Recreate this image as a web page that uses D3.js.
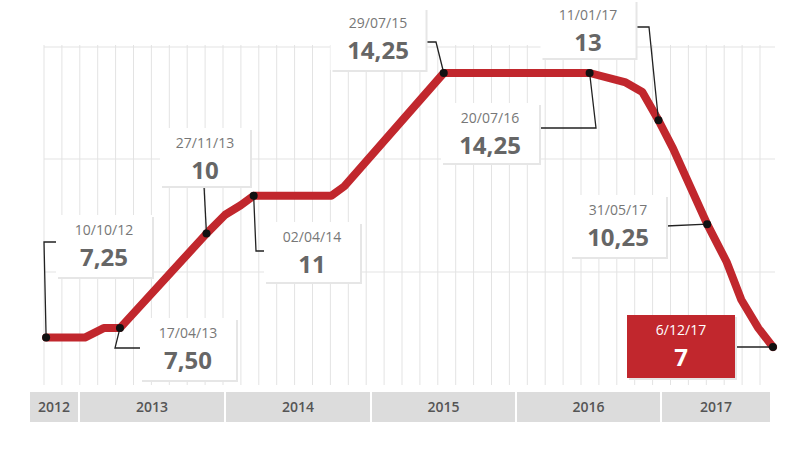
<!DOCTYPE html><html><head><meta charset="utf-8">
<script src="https://cdn.jsdelivr.net/npm/d3@7"></script>
<style>body{margin:0;background:#fff}text{font-family:"Open Sans",Arial,sans-serif}</style></head><body>
<svg id="c" width="800" height="450"></svg>
<script>
const lineDates=["2012-10-10","2013-01-16","2013-03-06","2013-04-17","2013-11-27","2014-01-15","2014-02-26","2014-04-02","2014-10-29","2014-12-03","2015-07-29","2016-07-20","2016-10-19","2016-11-30","2017-01-11","2017-02-22","2017-04-12","2017-05-31","2017-07-26","2017-09-06","2017-10-25","2017-12-06"];
const lineValues=[7.25,7.25,7.5,7.5,10,10.5,10.75,11,11,11.25,14.25,14.25,14,13.75,13,12.25,11.25,10.25,9.25,8.25,7.5,7];
const labelDates=["10/10/12","17/04/13","27/11/13","02/04/14","29/07/15","20/07/16","11/01/17","31/05/17","6/12/17"];
const labelValues=["7,25","7,50","10","11","14,25","14,25","13","10,25","7"];
const labelPointIdx=[0,3,4,7,10,11,14,17,21];
const years=["2012","2013","2014","2015","2016","2017"];
const boxes=[[104,215,96,62],[188,318,96,62],[205,128,90,58],[312,222,96,60],[378,8,95,62],[490,103,98,60],[588,0,95,58],[618,195,96,62],[681,315,108,63]];
const elbows=[[[44,242],[57,242]],[[115,348],[140,348]],[[204,186]],[[256,251],[264,251]],[[436,42],[426,42]],[[596,128],[539,128]],[[649,27],[636,27]],[[666,226]],[[735,347]]];

const svg=d3.select("#c");
const pd=d3.timeParse("%Y-%m-%d");
const yb=["2012-01-01","2013-01-01","2014-01-01","2015-01-01","2016-01-01","2017-01-01","2018-01-01"].map(pd);
const x=d3.scaleTime().domain(yb).range([-66,79,220,355,510,655,782]);
const y=d3.scaleLinear().domain([7,14.25]).range([347,73]);
const g=svg.append("g");
d3.range(44,775,17.9).forEach(v=>g.append("line").attr("x1",v).attr("x2",v).attr("y1",45).attr("y2",385).attr("stroke","#e3e3e3"));
[47,159,272].forEach(v=>g.append("line").attr("x1",44).attr("x2",775).attr("y1",v).attr("y2",v).attr("stroke","#e3e3e3"));
const bandX=[30,80,226,372,517,662,772];
years.forEach((yr,i)=>{
  const x0=bandX[i], x1=bandX[i+1]-2;
  svg.append("rect").attr("x",x0).attr("y",392).attr("width",x1-x0).attr("height",30).attr("fill","#dcdcdc");
  svg.append("text").attr("x",(x0+x1)/2).attr("y",412).attr("text-anchor","middle").attr("font-size",14).attr("font-weight",600).attr("fill","#555").text(yr);
});
const pts=lineDates.map((d,i)=>[x(pd(d)),y(lineValues[i])]);
svg.append("path").attr("d",d3.line()(pts)).attr("fill","none").attr("stroke","#c1272d").attr("stroke-width",8).attr("stroke-linejoin","round").attr("stroke-linecap","round");
labelDates.forEach((ld,i)=>{
  const p=pts[labelPointIdx[i]], b=boxes[i], last=i===labelDates.length-1;
  svg.append("polyline").attr("points",[p].concat(elbows[i]).map(q=>q.join(",")).join(" ")).attr("fill","none").attr("stroke","#222").attr("stroke-width",1.3);
  svg.append("rect").attr("x",b[0]-b[2]/2+2).attr("y",b[1]+2).attr("width",b[2]).attr("height",b[3]).attr("fill","#e6e6e6");
  svg.append("rect").attr("x",b[0]-b[2]/2).attr("y",b[1]).attr("width",b[2]).attr("height",b[3]).attr("fill",last?"#c1272d":"#fff");
  svg.append("text").attr("x",b[0]).attr("y",b[1]+20).attr("text-anchor","middle").attr("font-size",14).attr("fill",last?"#fff":"#777").text(ld);
  svg.append("text").attr("x",b[0]).attr("y",b[1]+51).attr("text-anchor","middle").attr("font-size",24).attr("font-weight",700).attr("fill",last?"#fff":"#666").text(labelValues[i]);
  svg.append("circle").attr("cx",p[0]).attr("cy",p[1]).attr("r",4).attr("fill","#111");
});
</script></body></html>
